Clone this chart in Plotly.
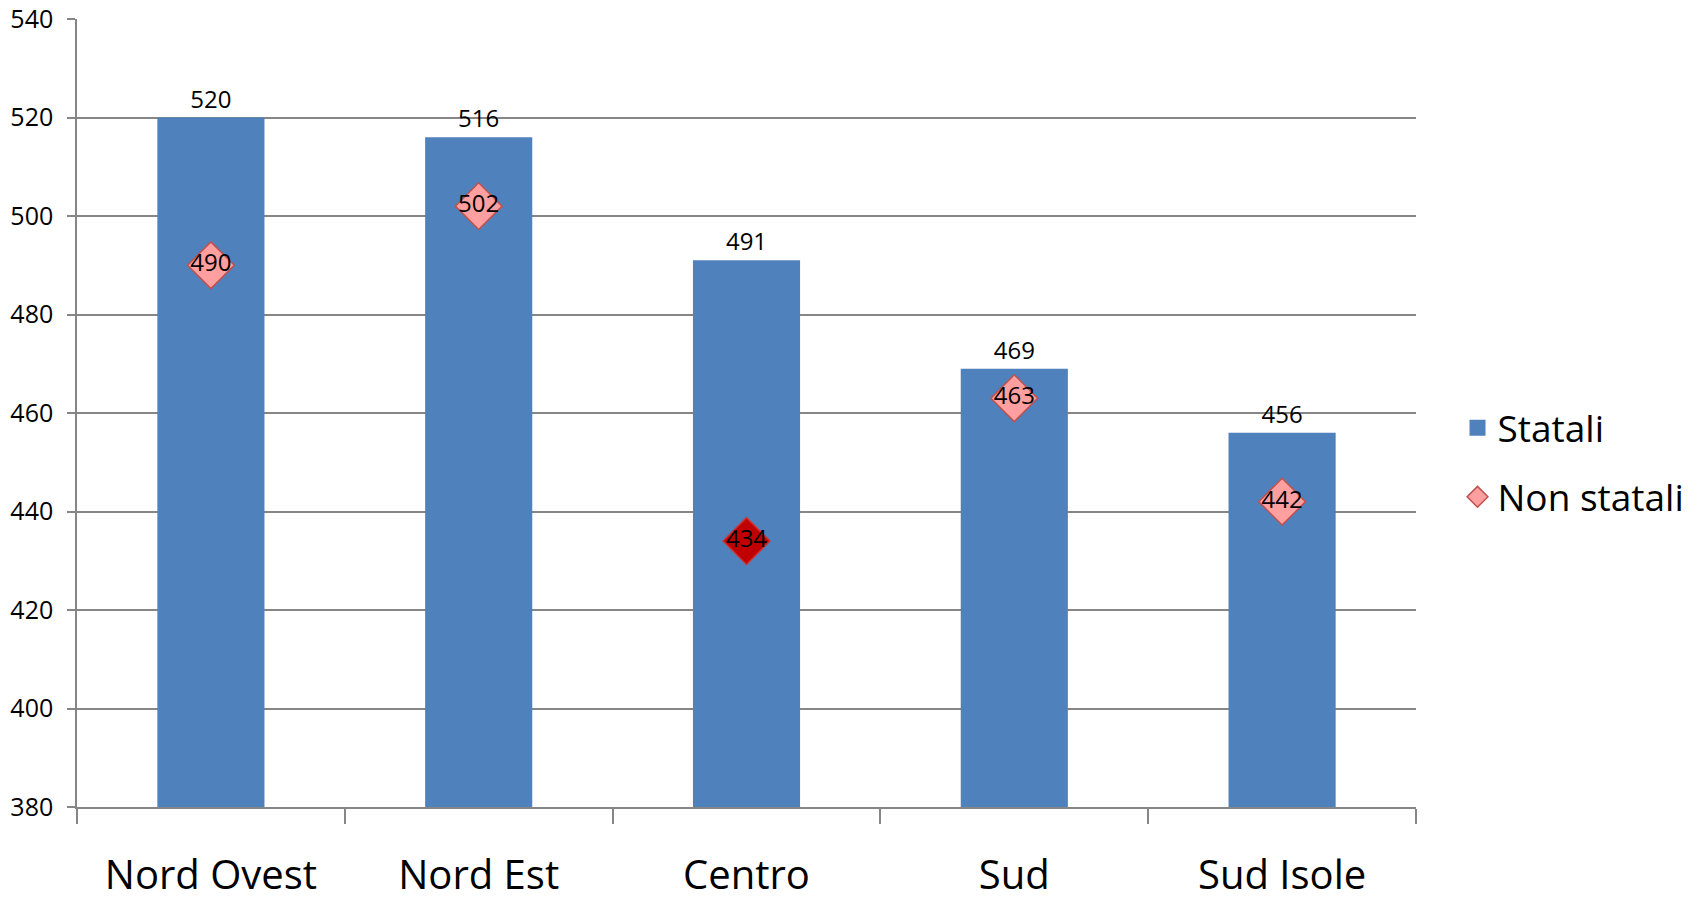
import plotly.graph_objects as go

categories = ["Nord Ovest", "Nord Est", "Centro", "Sud", "Sud Isole"]
statali = [520, 516, 491, 469, 456]
non_statali = [490, 502, 434, 463, 442]
y_ticks = [380, 400, 420, 440, 460, 480, 500, 520, 540]

FONT = "Open Sans"
BAR_COLOR = "#4F81BD"
PINK = "#FF9F9F"
DARK = "#C00000"
EDGE = "#C0504D"
marker_fill = [PINK, PINK, DARK, PINK, PINK]
marker_edge = [EDGE, EDGE, "#D03030", EDGE, EDGE]

fig = go.Figure()
fig.add_trace(go.Bar(
    x=categories, y=statali, name="Statali",
    marker=dict(color=BAR_COLOR, line=dict(width=0)),
    text=[str(v) for v in statali], textposition="outside",
    textfont=dict(family=FONT, size=24, color="black"),
    cliponaxis=False, showlegend=False, legendgroup="s",
))
# legend entry for the bars (larger square symbol)
fig.add_trace(go.Scatter(
    x=[None], y=[None], name="Statali", mode="markers",
    marker=dict(symbol="square", size=16, color=BAR_COLOR),
    legendgroup="s", showlegend=True,
))
fig.add_trace(go.Scatter(
    x=categories, y=non_statali, name="Non statali",
    mode="markers+text",
    marker=dict(symbol="diamond", size=36, color=marker_fill,
                line=dict(color=marker_edge, width=1.5)),
    text=[str(v) for v in non_statali], textposition="middle center",
    textfont=dict(family=FONT, size=24, color="black"),
    cliponaxis=False, legendgroup="n",
))

# page body adds an 8px margin; figure is sized to compensate
fig.update_layout(
    width=1694, height=895,
    margin=dict(l=69, r=286, t=11, b=96, autoexpand=False),
    paper_bgcolor="white", plot_bgcolor="white",
    bargap=0.6,
    font=dict(family=FONT, color="black"),
    showlegend=True,
    legend=dict(
        x=1.031, y=0.437, xanchor="left", yanchor="middle",
        font=dict(family=FONT, size=37, color="black"),
        tracegroupgap=18, itemsizing="trace",
    ),
)
fig.update_xaxes(
    type="category", automargin=False,
    showgrid=False, showline=True, linecolor="#868686", linewidth=1.5,
    ticks="outside", tickson="boundaries", ticklen=15, tickcolor="#868686", tickwidth=1.5,
    tickfont=dict(family=FONT, size=40, color="black"),
    ticklabelstandoff=32, ticklabeloverflow="allow",
)
fig.update_yaxes(
    range=[380, 540], tickvals=y_ticks, automargin=False,
    showgrid=True, gridcolor="#868686", gridwidth=1.5,
    showline=True, linecolor="#868686", linewidth=1.5,
    ticks="outside", ticklen=8, tickcolor="#868686", tickwidth=1.5,
    tickfont=dict(family=FONT, size=25, color="black"),
    ticklabelstandoff=9, ticklabeloverflow="allow",
    zeroline=False,
)

fig.write_html("out.html")
